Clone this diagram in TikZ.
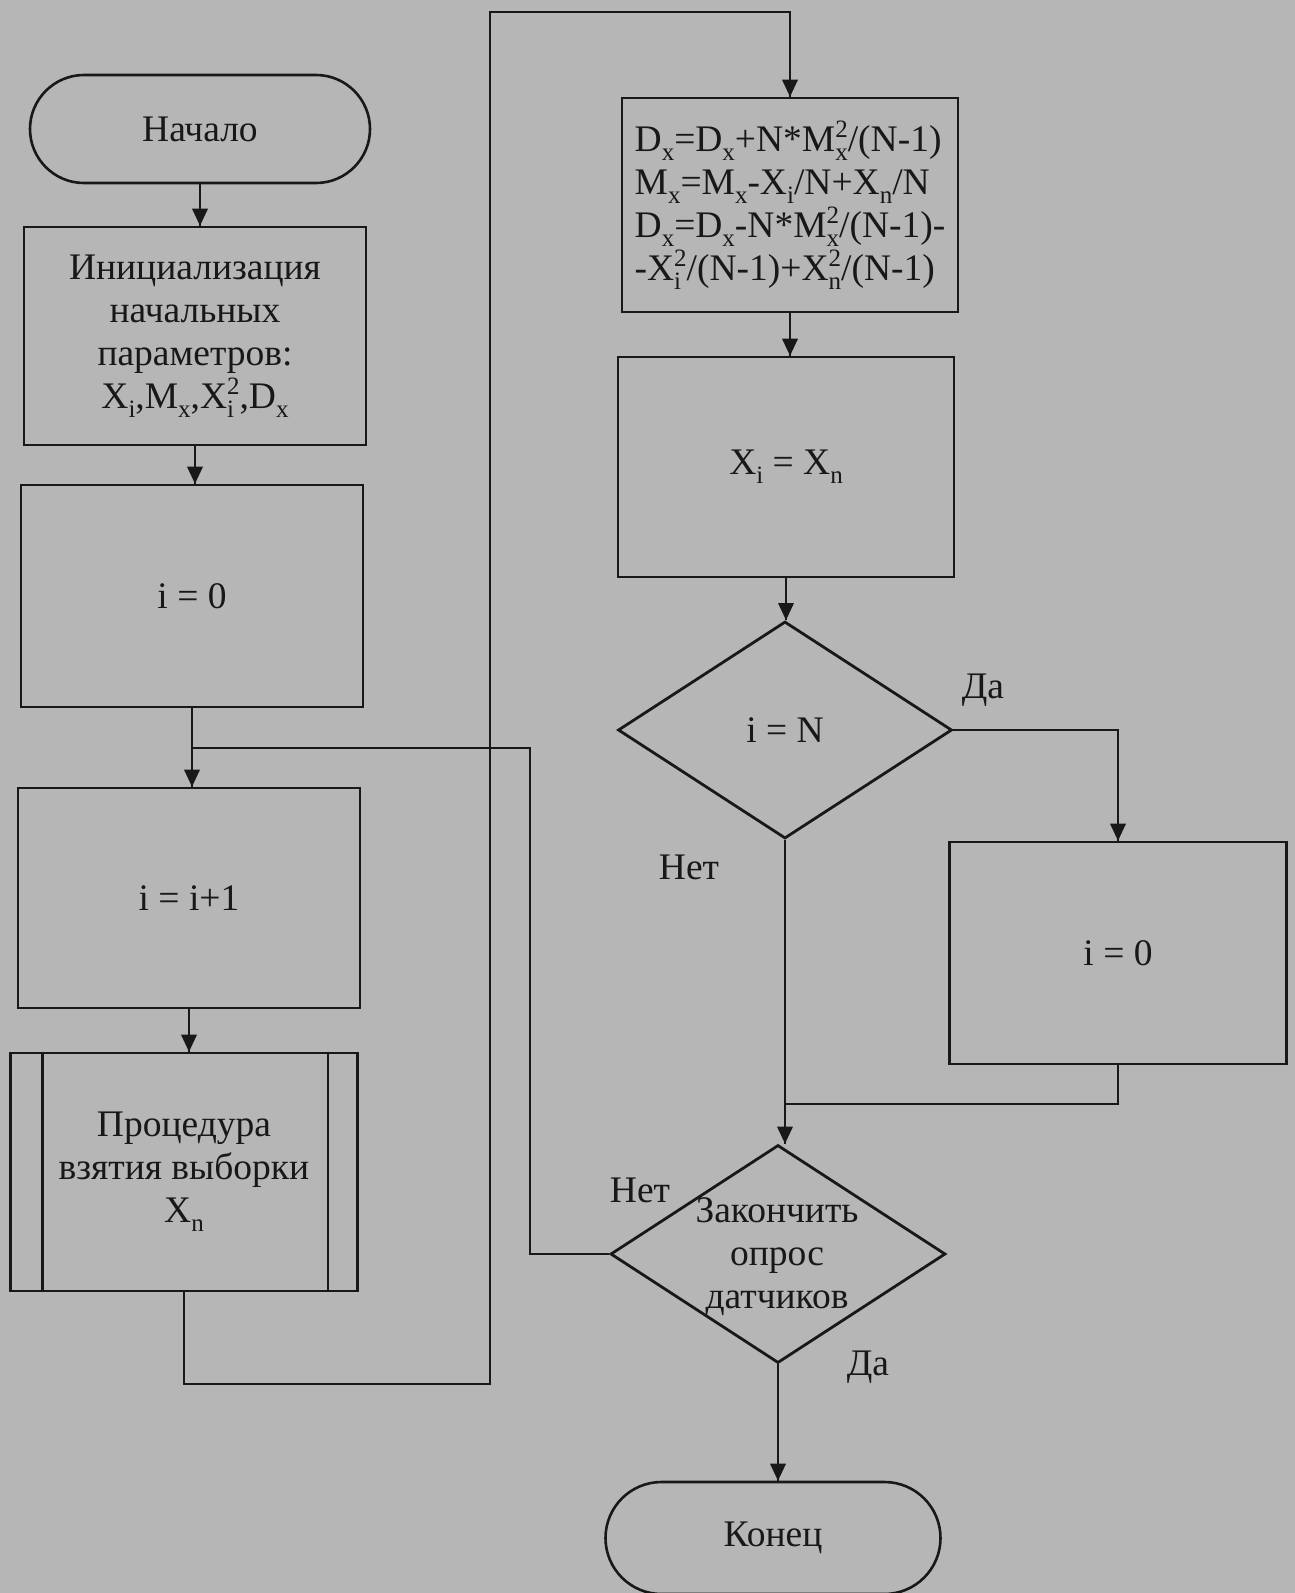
\documentclass[tikz,border=0pt]{standalone}
\usepackage{fontspec}
\setmainfont{Liberation Serif}
\usetikzlibrary{shapes.geometric}
\definecolor{ink}{RGB}{24,24,24}
\definecolor{paper}{RGB}{182,182,182}
\newcommand{\lowx}[1]{\raisebox{-9pt}{\fontsize{25}{25}\selectfont #1}}
\newcommand{\highx}[1]{\raisebox{14pt}{\fontsize{25}{25}\selectfont #1}}
\newcommand{\sbsp}[3]{#1\rlap{\lowx{#2}}\highx{#3}}
\newcommand{\bigtext}{\fontsize{37.5}{43}\selectfont\lineskiplimit=-30pt\relax}

\begin{document}
\begin{tikzpicture}[x=1pt,y=-1pt]
		\tikzstyle{every node}+=[inner sep=0pt, text=ink, font=\bigtext]
		\tikzstyle{blok}=[draw=ink, line width=2.6pt, rectangle, align=center, minimum width=342pt, minimum height=220pt]
		\tikzstyle{term}=[blok, rounded corners=54pt, minimum height=108pt]
		\tikzstyle{romb}=[draw=ink, line width=2.8pt, diamond, minimum width=335pt, minimum height=218pt]
		\tikzstyle{svaz}=[ink, line width=2.3pt]
		\useasboundingbox (0,0) rectangle (1295,1593);
		\fill [paper] (0,0) rectangle (1295,1593);
		\node [term, minimum width=340pt] (start) at (200,129) {Начало};
		\node [blok, minimum height=218pt] (init) at (195,336) {Инициализация\\начальных\\параметров:\\X\lowx{i},M\lowx{x},\sbsp{X}{i}{2},D\lowx{x}};
		\node [blok, minimum height=222pt] (izero) at (192,596) {i = 0};
		\node [blok] (inc) at (189,898) {i = i+1};
		\node [blok, minimum width=347pt, minimum height=238pt] (proc) at (184,1172) {Процедура\\взятия выборки\\X\lowx{n}};
		\draw [svaz, line width=2.6pt] ([xshift=33pt]proc.north west) -- ([xshift=33pt]proc.south west);
		\draw [svaz, line width=2.6pt] ([xshift=-31pt]proc.north east) -- ([xshift=-31pt]proc.south east);
		\node [blok, minimum width=336pt, minimum height=214pt, align=left] (form) at (790,205) {D\lowx{x}=D\lowx{x}+N*\sbsp{M}{x}{2}/(N-1)\\M\lowx{x}=M\lowx{x}-X\lowx{i}/N+X\lowx{n}/N\\D\lowx{x}=D\lowx{x}-N*\sbsp{M}{x}{2}/(N-1)-\\-\sbsp{X}{i}{2}/(N-1)+\sbsp{X}{n}{2}/(N-1)};
		\node [blok, minimum width=336pt] (xi) at (786,467) {X\lowx{i} = X\lowx{n}};
		\node [romb, minimum width=334pt, minimum height=217pt] (ifn) at (785,730) {};
		\node (ifnT) at (ifn) {i = N};
		\node [blok, minimum width=337pt, minimum height=222pt] (rz) at (1118,953) {i = 0};
		\node [romb] (fin) at (778,1254) {};
		\node [align=center] (finT) at (777,1257) {Закончить\\опрос\\датчиков};
		\node [term, minimum width=335pt, minimum height=112pt, rounded corners=56pt] (end) at (773,1538) {Конец};
		\node (daA) at (983,690) {Да};
		\node (netA) at (689,867) {Нет};
		\node (netB) at (640,1190) {Нет};
		\node (daB) at (868,1367) {Да};
		\coordinate (jr) at (530,748);
		\coordinate (lowR) at (490,1384);
		\coordinate (topR) at (490,12);
		\coordinate (mrg) at (1000,1104);
		\draw [svaz] (start.south) -- (start.south |- init.north);
		\fill [ink] (start.south |- init.north) -- ++(-8,-17) -- ++(16,0) -- cycle;
		\draw [svaz] (init.south) -- (init.south |- izero.north);
		\fill [ink] (init.south |- izero.north) -- ++(-8,-17) -- ++(16,0) -- cycle;
		\draw [svaz] (izero.south) -- (izero.south |- inc.north);
		\fill [ink] (izero.south |- inc.north) -- ++(-8,-17) -- ++(16,0) -- cycle;
		\draw [svaz] (inc.south) -- (inc.south |- proc.north);
		\fill [ink] (inc.south |- proc.north) -- ++(-8,-17) -- ++(16,0) -- cycle;
		\draw [svaz] (proc.south) |- (lowR) -- (topR) -| (form.north);
		\fill [ink] (form.north) -- ++(-8,-17) -- ++(16,0) -- cycle;
		\draw [svaz] (form.south) -- (form.south |- xi.north);
		\fill [ink] (form.south |- xi.north) -- ++(-8,-17) -- ++(16,0) -- cycle;
		\draw [svaz] (xi.south) -- (xi.south |- ifn.north);
		\fill [ink] (xi.south |- ifn.north) -- ++(-8,-17) -- ++(16,0) -- cycle;
		\draw [svaz] (ifn.east) -| (rz.north);
		\fill [ink] (rz.north) -- ++(-8,-17) -- ++(16,0) -- cycle;
		\draw [svaz] (ifn.south) -- (ifn.south |- fin.north);
		\fill [ink] (ifn.south |- fin.north) -- ++(-8,-17) -- ++(16,0) -- cycle;
		\draw [svaz] (rz.south) |- (ifn.south |- mrg);
		\draw [svaz] (fin.west) -| (jr) -- (izero.south |- jr);
		\draw [svaz] (fin.south) -- (fin.south |- end.north);
		\fill [ink] (fin.south |- end.north) -- ++(-8,-17) -- ++(16,0) -- cycle;
\end{tikzpicture}
\end{document}
